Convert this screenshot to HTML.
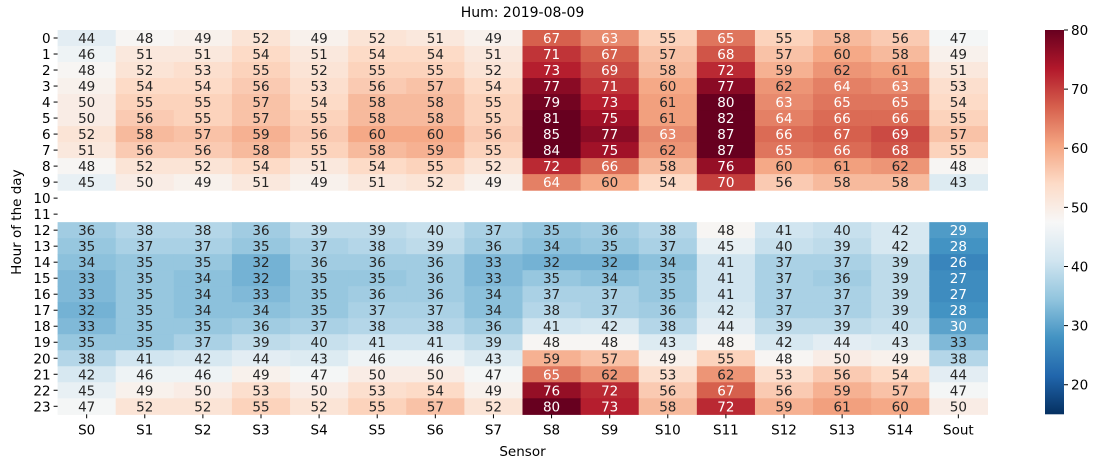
<!DOCTYPE html>
<html><head><meta charset="utf-8">
<style>
body{margin:0;background:#fff;font-family:"Liberation Sans","DejaVu Sans",sans-serif;}
svg text{font-family:"DejaVu Sans","Liberation Sans",sans-serif;}
</style></head>
<body>
<svg id="chart" width="1101" height="468" viewBox="0 0 1101 468"></svg>
<script>
const sensors = ["S0","S1","S2","S3","S4","S5","S6","S7","S8","S9","S10","S11","S12","S13","S14","Sout"];
const hours = ["0","1","2","3","4","5","6","7","8","9","10","11","12","13","14","15","16","17","18","19","20","21","22","23"];
const h0 = [44,48,49,52,49,52,51,49,67,63,55,65,55,58,56,47];
const h1 = [46,51,51,54,51,54,54,51,71,67,57,68,57,60,58,49];
const h2 = [48,52,53,55,52,55,55,52,73,69,58,72,59,62,61,51];
const h3 = [49,54,54,56,53,56,57,54,77,71,60,77,62,64,63,53];
const h4 = [50,55,55,57,54,58,58,55,79,73,61,80,63,65,65,54];
const h5 = [50,56,55,57,55,58,58,55,81,75,61,82,64,66,66,55];
const h6 = [52,58,57,59,56,60,60,56,85,77,63,87,66,67,69,57];
const h7 = [51,56,56,58,55,58,59,55,84,75,62,87,65,66,68,55];
const h8 = [48,52,52,54,51,54,55,52,72,66,58,76,60,61,62,48];
const h9 = [45,50,49,51,49,51,52,49,64,60,54,70,56,58,58,43];
const h10 = null;
const h11 = null;
const h12 = [36,38,38,36,39,39,40,37,35,36,38,48,41,40,42,29];
const h13 = [35,37,37,35,37,38,39,36,34,35,37,45,40,39,42,28];
const h14 = [34,35,35,32,36,36,36,33,32,32,34,41,37,37,39,26];
const h15 = [33,35,34,32,35,35,36,33,35,34,35,41,37,36,39,27];
const h16 = [33,35,34,33,35,36,36,34,37,37,35,41,37,37,39,27];
const h17 = [32,35,34,34,35,37,37,34,38,37,36,42,37,37,39,28];
const h18 = [33,35,35,36,37,38,38,36,41,42,38,44,39,39,40,30];
const h19 = [35,35,37,39,40,41,41,39,48,48,43,48,42,44,43,33];
const h20 = [38,41,42,44,43,46,46,43,59,57,49,55,48,50,49,38];
const h21 = [42,46,46,49,47,50,50,47,65,62,53,62,53,56,54,44];
const h22 = [45,49,50,53,50,53,54,49,76,72,56,67,56,59,57,47];
const h23 = [47,52,52,55,52,55,57,52,80,73,58,72,59,61,60,50];
const values = [h0,h1,h2,h3,h4,h5,h6,h7,h8,h9,h10,h11,h12,h13,h14,h15,h16,h17,h18,h19,h20,h21,h22,h23];
const cbTicks = [20,30,40,50,60,70,80];
const vmin = 15, vmax = 80;

const NS = "http://www.w3.org/2000/svg";
const svg = document.getElementById("chart");
const L = 57.6, R = 987.4, T = 30, B = 414.3;
const cw = (R-L)/sensors.length, ch = (B-T)/hours.length;
const xPos = i => L + i*cw;
const yPos = j => T + j*ch;
const cbX = 1045, cbW = 19;
const cbY = v => T + (vmax - v)/(vmax - vmin)*(B - T);

const stops = ["#053061","#2166ac","#4393c3","#92c5de","#d1e5f0","#f7f7f7","#fddbc7","#f4a582","#d6604d","#b2182b","#67001f"];
function hex(c){return [1,3,5].map(k=>parseInt(c.substr(k,2),16));}
function color(v){
  let t=(v-vmin)/(vmax-vmin); t=Math.max(0,Math.min(1,t));
  const p=t*(stops.length-1), i=Math.min(Math.floor(p),stops.length-2), f=p-i;
  const a=hex(stops[i]), b=hex(stops[i+1]);
  return a.map((x,k)=>Math.round(x+(b[k]-x)*f));
}
function lum(c){
  const r=c.map(x=>{x/=255;return x<=0.03928?x/12.92:Math.pow((x+0.055)/1.055,2.4);});
  return 0.2126*r[0]+0.7152*r[1]+0.0722*r[2];
}
function el(tag, attrs, text){
  const e=document.createElementNS(NS,tag);
  for(const k in attrs) e.setAttribute(k,attrs[k]);
  if(text!==undefined) e.textContent=text;
  svg.appendChild(e); return e;
}

values.forEach((row,j)=>{
  if(!row) return;
  row.forEach((v,i)=>{
    const c=color(v);
    const r=el("rect",{x:xPos(i),y:yPos(j),width:cw+0.6,height:ch+0.6,fill:`rgb(${c.join(",")})`});
    
    
    const t=el("text",{x:xPos(i)+cw/2,y:yPos(j)+ch/2+5,"text-anchor":"middle","font-size":"13.5",fill:lum(c)>0.39?"#262626":"#ffffff"},String(v));
    
    
  });
});

sensors.forEach((s,i)=>{
  const x=xPos(i)+cw/2;
  const tk=el("line",{x1:x,x2:x,y1:B,y2:B+4,stroke:"#000","stroke-width":1});
  
  
  const t=el("text",{x:x,y:B+20,"text-anchor":"middle","font-size":"13.5",fill:"#000"},s);
  
  
});
hours.forEach((h,j)=>{
  const y=yPos(j)+ch/2;
  const tk=el("line",{x1:L-4,x2:L,y1:y,y2:y,stroke:"#000","stroke-width":1});
  
  
  const t=el("text",{x:L-7,y:y+5,"text-anchor":"end","font-size":"13.5",fill:"#000"},h);
  
  
});

const title=el("text",{x:(L+R)/2,y:17,"text-anchor":"middle","font-size":"14",fill:"#000"},"Hum: 2019-08-09");


const xl=el("text",{x:(L+R)/2,y:456,"text-anchor":"middle","font-size":"13.5",fill:"#000"},"Sensor");


const yl=el("text",{x:0,y:0,"text-anchor":"middle","font-size":"13.5",fill:"#000",transform:`translate(21,${(T+B)/2}) rotate(-90)`},"Hour of the day");



const defs=el("defs",{});
const grad=document.createElementNS(NS,"linearGradient");
grad.setAttribute("id","cbgrad");grad.setAttribute("x1","0");grad.setAttribute("y1","1");grad.setAttribute("x2","0");grad.setAttribute("y2","0");
stops.forEach((s,k)=>{const st=document.createElementNS(NS,"stop");st.setAttribute("offset",k/(stops.length-1));st.setAttribute("stop-color",s);grad.appendChild(st);});
defs.appendChild(grad);
const cb=el("rect",{x:cbX,y:T,width:cbW,height:B-T,fill:"url(#cbgrad)"});


cbTicks.forEach(v=>{
  const y=cbY(v);
  const tk=el("line",{x1:cbX+cbW,x2:cbX+cbW+4,y1:y,y2:y,stroke:"#000","stroke-width":1});
  
  
  const t=el("text",{x:cbX+cbW+7,y:y+5,"font-size":"13.5",fill:"#000"},String(v));
  
  
});
</script>
</body></html>
